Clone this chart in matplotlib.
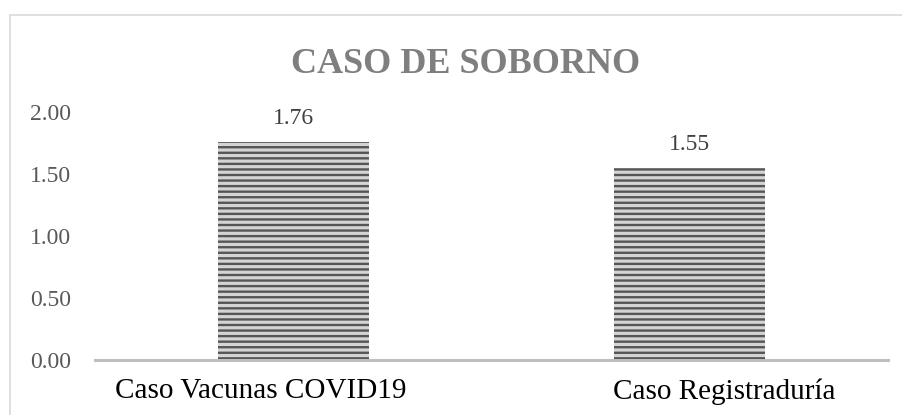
import matplotlib.pyplot as plt
from matplotlib.patches import Rectangle

categories = ["Caso Vacunas COVID19", "Caso Registraduría"]
values = [1.76, 1.55]
value_labels = ["1.76", "1.55"]
yticks = [0.0, 0.5, 1.0, 1.5, 2.0]
ytick_labels = ["0.00", "0.50", "1.00", "1.50", "2.00"]
title = "CASO DE SOBORNO"

plt.rcParams["font.family"] = ["Liberation Serif", "DejaVu Serif"]
plt.rcParams["hatch.linewidth"] = 1.7

fig = plt.figure(figsize=(9.03, 4.15), dpi=100)

# outer chart border (only left and top visible in the crop)
fig.patches.append(Rectangle((10 / 903, -0.1), 1.2, 1.1 - 15 / 415,
                             transform=fig.transFigure, fill=False,
                             edgecolor="#d9d9d9", linewidth=1.2))

ax = fig.add_axes([95 / 903, 55 / 415, 793 / 903, 248 / 415])

x = list(range(len(categories)))
ax.bar(x, values, width=0.38, color="#d4d4d4", edgecolor="#555555",
       linewidth=0, hatch="---")

for xi, v, lab in zip(x, values, value_labels):
    ax.annotate(lab, (xi, v), xytext=(0, 9), textcoords="offset points",
                ha="center", va="bottom", fontsize=17, color="#404040")

ax.set_xlim(-0.5, 1.5)
ax.set_ylim(0, 2.0)
ax.set_yticks(yticks)
ax.set_yticklabels(ytick_labels, fontsize=17, color="#595959")
# category labels sit a little off the bar centres in the original
ax.set_xticks([-0.083, 1.088])
ax.set_xticklabels(categories, fontsize=21, color="black")
ax.tick_params(axis="both", length=0)
ax.tick_params(axis="y", pad=17)
ax.tick_params(axis="x", pad=13)

for s in ["top", "right", "left"]:
    ax.spines[s].set_visible(False)
ax.spines["bottom"].set_color("#bfbfbf")
ax.spines["bottom"].set_linewidth(2.2)

fig.text(466 / 903, 1 - 73 / 415, title, ha="center", va="baseline",
         fontsize=26, fontweight="bold", color="#7f7f7f")

fig.savefig("out.png", dpi=100)
